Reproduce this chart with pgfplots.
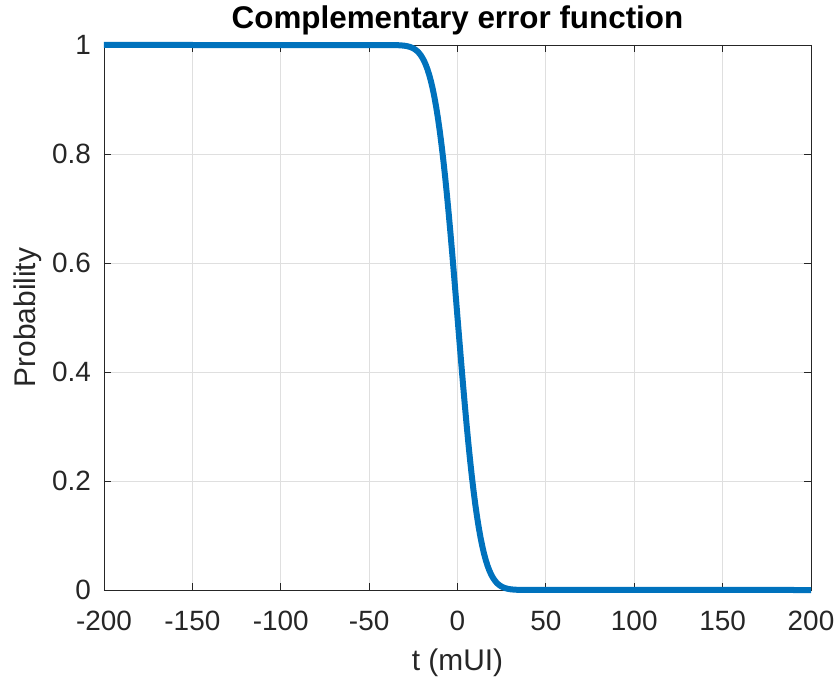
\documentclass[border=0pt]{standalone}
\usepackage{fontspec}
\setmainfont{Liberation Sans}
\usepackage{pgfplots}
\pgfplotsset{compat=1.18}
\definecolor{mblue}{RGB}{0,114,189}
\definecolor{axgray}{RGB}{38,38,38}
\definecolor{gridgray}{RGB}{223,223,223}
\begin{document}
\begin{tikzpicture}
\useasboundingbox (-104bp,-91bp) rectangle (735bp,590bp);
\begin{axis}[at={(0,0)}, anchor=south west, scale only axis,
  width=707bp, height=545bp,
  xmin=-200, xmax=200, ymin=0, ymax=1,
  xtick={-200,-150,-100,-50,0,50,100,150,200},
  ytick={0,0.2,0.4,0.6,0.8,1},
  grid=major, major grid style={gridgray, line width=0.8bp},
  axis line style={axgray, line width=0.9bp},
  tick style={axgray, line width=0.9bp},
  tick align=inside, major tick length=7bp,
  clip=false,
  /pgf/number format/assume math mode=true,
  yticklabel style={/pgf/number format/fixed, /pgf/number format/precision=1},
  tick label style={font=\fontsize{28}{32}\selectfont, text=axgray},
  xticklabel style={anchor=base, yshift=-40bp},
  yticklabel style={anchor=east, inner sep=0pt, xshift=-13bp},
  every axis title shift=0pt,
  title={Complementary error function},
  title style={at={(axis description cs:0.5,1)}, anchor=base, yshift=16bp,
    font=\bfseries\fontsize{31.5}{36}\selectfont, text=black},
  xlabel={t (mUI)},
  xlabel style={at={(axis description cs:0.5,0)}, anchor=base, yshift=-80bp,
    font=\fontsize{30}{34}\selectfont, text=axgray},
  ylabel={Probability},
  ylabel style={at={(axis description cs:-0.0962,0.5)}, anchor=base,
    font=\fontsize{30}{34}\selectfont, text=axgray},
]
\addplot[mblue, line width=6bp, line join=round, line cap=butt] coordinates {
(-200,1) (-40,0.99997) (-38,0.99993) (-36,0.99984) (-34,0.99966) (-32,0.99931)
(-30,0.99865) (-29,0.99813) (-28,0.99744) (-27,0.99653) (-26,0.99534) (-25,0.99379)
(-24,0.99180) (-23,0.98928) (-22,0.98610) (-21,0.98214) (-20,0.97725) (-19,0.97128)
(-18,0.96407) (-17,0.95543) (-16,0.94520) (-15,0.93319) (-14,0.91924) (-13,0.90320)
(-12,0.88493) (-11,0.86433) (-10,0.84134) (-9,0.81594) (-8,0.78814) (-7,0.75804)
(-6,0.72575) (-5,0.69146) (-4,0.65542) (-3,0.61791) (-2,0.57926) (-1,0.53983)
(0,0.5) (1,0.46017) (2,0.42074) (3,0.38209) (4,0.34458) (5,0.30854) (6,0.27425)
(7,0.24196) (8,0.21186) (9,0.18406) (10,0.15866) (11,0.13567) (12,0.11507)
(13,0.09680) (14,0.08076) (15,0.06681) (16,0.05480) (17,0.04457) (18,0.03593)
(19,0.02872) (20,0.02275) (21,0.01786) (22,0.01390) (23,0.01072) (24,0.00820)
(25,0.00621) (26,0.00466) (27,0.00347) (28,0.00256) (29,0.00187) (30,0.00135)
(32,0.00069) (34,0.00034) (36,0.00016) (38,0.00007) (40,0.00003) (200,0)
};
\end{axis}
\end{tikzpicture}
\end{document}
